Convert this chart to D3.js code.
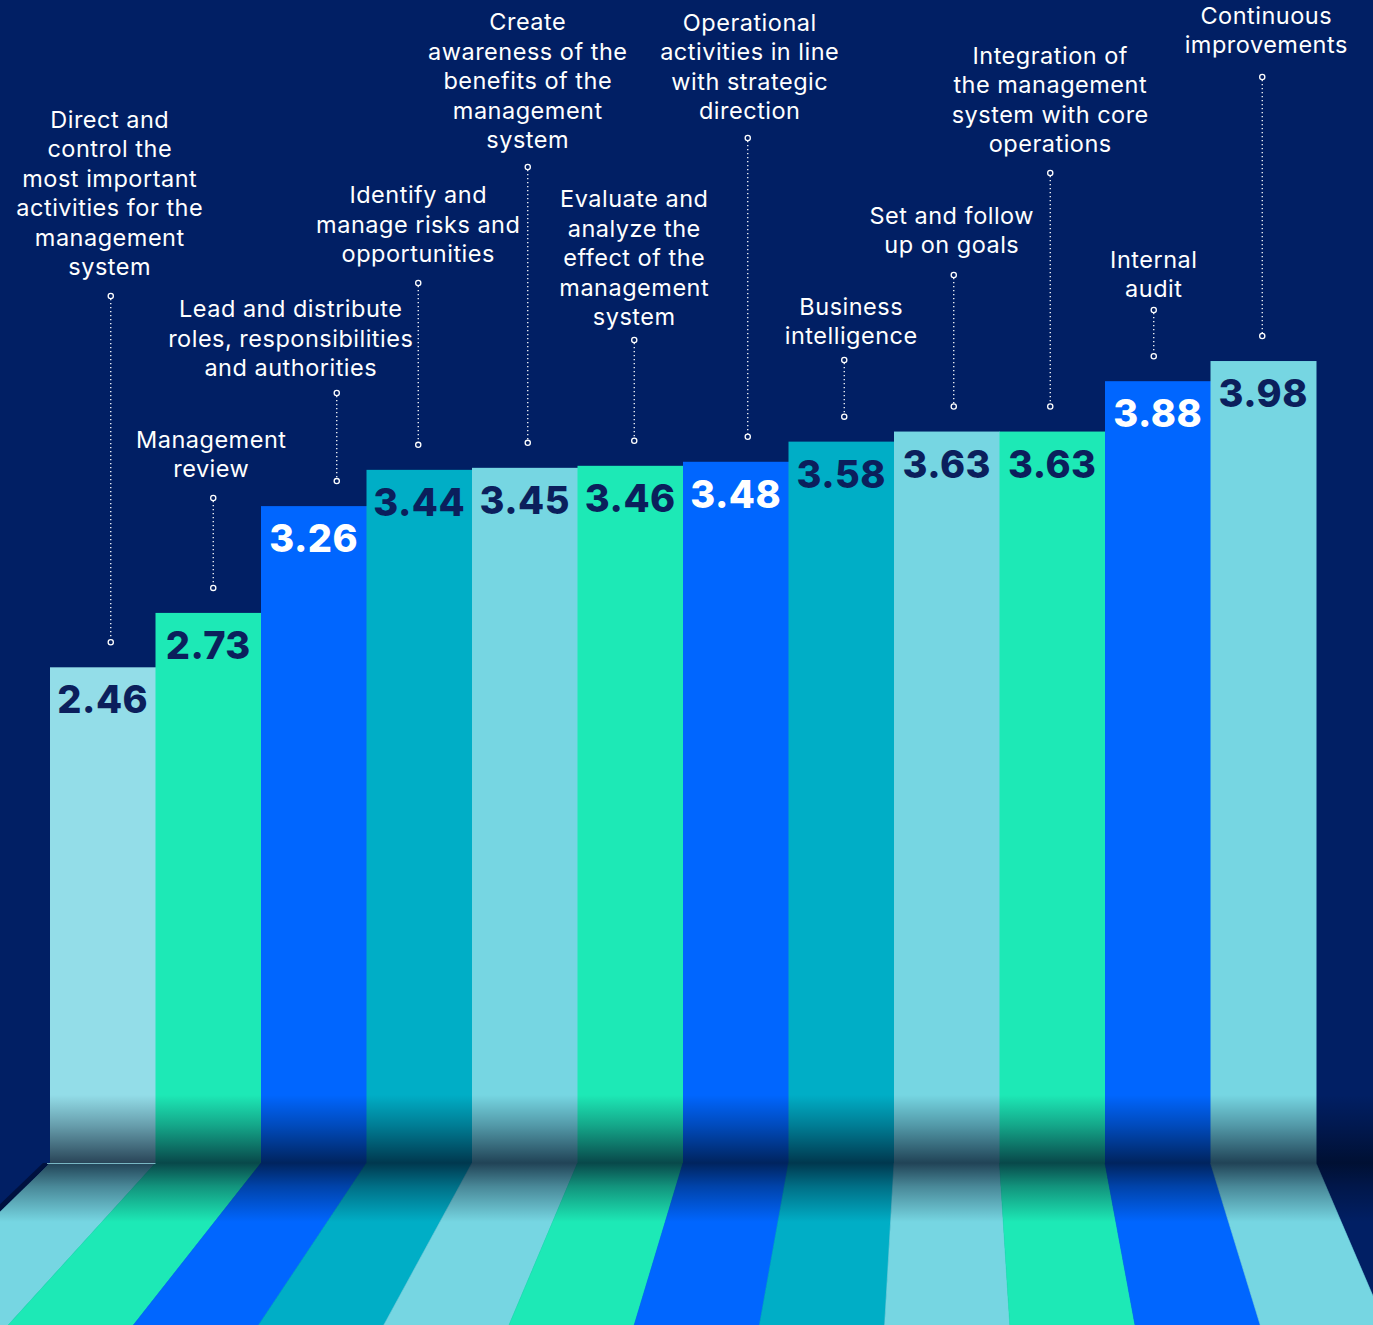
<!DOCTYPE html>
<html>
<head>
<meta charset="utf-8">
<script src="https://cdn.jsdelivr.net/npm/d3@7"></script>
<style>
  html, body { margin: 0; padding: 0; background: #011f64; }
  svg { display: block; }
</style>
</head>
<body>
<svg id="chart" width="1373" height="1325"></svg>
<script>
// Management system practices, average maturity score (scale 0-4)
const categories = [
  ["Direct and", "control the", "most important", "activities for the", "management", "system"],
  ["Management", "review"],
  ["Lead and distribute", "roles, responsibilities", "and authorities"],
  ["Identify and", "manage risks and", "opportunities"],
  ["Create", "awareness of the", "benefits of the", "management", "system"],
  ["Evaluate and", "analyze the", "effect of the", "management", "system"],
  ["Operational", "activities in line", "with strategic", "direction"],
  ["Business", "intelligence"],
  ["Set and follow", "up on goals"],
  ["Integration of", "the management", "system with core", "operations"],
  ["Internal", "audit"],
  ["Continuous", "improvements"]
];
const scores = [2.46, 2.73, 3.26, 3.44, 3.45, 3.46, 3.48, 3.58, 3.63, 3.63, 3.88, 3.98];
const scoreLabels = ["2.46", "2.73", "3.26", "3.44", "3.45", "3.46", "3.48", "3.58", "3.63", "3.63", "3.88", "3.98"];

// Colour roles per bar
const barPalette   = ["#93dde8", "#1de9b6", "#0066ff", "#00aec6", "#76d6e2", "#1de9b6",
                      "#0066ff", "#00aec6", "#76d6e2", "#1de9b6", "#0066ff", "#76d6e2"];
const floorPalette = ["#76d6e2", "#1de9b6", "#0066ff", "#00aec6", "#76d6e2", "#1de9b6",
                      "#0066ff", "#00aec6", "#76d6e2", "#1de9b6", "#0066ff", "#76d6e2"];

// Callout layout: horizontal nudge of the leader line from the bar centre,
// text offset from the leader, top of the leader, centre of the last text line
const calloutNudge   = [8, 5, 23, -1, 3, 4, 12, 3, 7, -2, -4, -1];
const calloutTextDx  = [-1, -2, -46, 0, 0, 0, 2, 7, -2, 0, 0, 4];
const calloutLineTop = [296, 498, 393, 283, 167, 340, 138, 360, 275, 173, 310, 77];
const calloutTextY   = [267, 469, 368, 254, 140, 317, 111, 336, 245, 144, 289, 45];

const W = 1373, H = 1325;
const baseY = 1163, floorBottom = 1325;
const navy = "#011f64";

const svg = d3.select("#chart");

const x = d3.scaleBand().domain(d3.range(scores.length)).range([50, 1316]).padding(0);
const y = d3.scaleLinear().domain([0, 4]).range([baseY, 357]);

// floor perspective: where a baseline x lands at the bottom edge
const fan = d3.scaleLinear().domain([157, 1212]).range([10, 1262]);
const floorX = (xx, t) => xx + t * (fan(xx) - xx);

const defs = svg.append("defs");
const barShade = defs.append("linearGradient")
  .attr("id", "barShade").attr("gradientUnits", "userSpaceOnUse")
  .attr("x1", 0).attr("x2", 0).attr("y1", 1095).attr("y2", baseY);
barShade.append("stop").attr("offset", 0).attr("stop-color", "#000a20").attr("stop-opacity", 0);
barShade.append("stop").attr("offset", 0.45).attr("stop-color", "#000a20").attr("stop-opacity", 0.3);
barShade.append("stop").attr("offset", 1).attr("stop-color", "#000a20").attr("stop-opacity", 0.72);

const floorShade = defs.append("linearGradient")
  .attr("id", "floorShade").attr("gradientUnits", "userSpaceOnUse")
  .attr("x1", 0).attr("x2", 0).attr("y1", baseY).attr("y2", 1222);
floorShade.append("stop").attr("offset", 0).attr("stop-color", "#000a20").attr("stop-opacity", 0.72);
floorShade.append("stop").attr("offset", 0.4).attr("stop-color", "#000a20").attr("stop-opacity", 0.38);
floorShade.append("stop").attr("offset", 1).attr("stop-color", "#000a20").attr("stop-opacity", 0);

// background
svg.append("rect").attr("width", W).attr("height", H).attr("fill", navy);

// floor stripes
const idx = d3.range(scores.length);
svg.append("g").selectAll("path").data(idx).join("path")
  .attr("d", i => {
    const x0 = x(i), x1 = x(i) + x.bandwidth();
    return d3.line()([[x0, baseY], [x1, baseY], [floorX(x1, 1), floorBottom], [floorX(x0, 1), floorBottom]]) + "Z";
  })
  .attr("fill", i => floorPalette[i])
  .attr("stroke", i => floorPalette[i]).attr("stroke-width", 0.6);

// dark edge along the left side of the floor
svg.append("path")
  .attr("d", d3.line()([[43, baseY], [50, baseY], [floorX(50, 1), floorBottom], [floorX(50, 1) - 9, floorBottom]]) + "Z")
  .attr("fill", "#00113f");

// floor shading (bars end in shadow, floor emerges from it)
svg.append("path")
  .attr("d", d3.line()([[50, baseY], [W, baseY], [W, floorBottom], [floorX(50, 1), floorBottom]]) + "Z")
  .attr("fill", "url(#floorShade)");

// bars
svg.append("g").selectAll("rect").data(idx).join("rect")
  .attr("x", i => x(i))
  .attr("y", i => y(scores[i]))
  .attr("width", x.bandwidth() + 0.5)
  .attr("height", i => baseY - y(scores[i]))
  .attr("fill", i => barPalette[i]);

svg.append("rect")
  .attr("x", 50).attr("y", 1095).attr("width", W - 50).attr("height", baseY - 1095)
  .attr("fill", "url(#barShade)");

// thin highlight on the front edge of the first floor stripe
svg.append("line")
  .attr("x1", 47).attr("x2", x(1)).attr("y1", baseY + 0.5).attr("y2", baseY + 0.5)
  .attr("stroke", "#8fd3de").attr("stroke-width", 1).attr("stroke-opacity", 0.8);

// value labels
svg.append("g").selectAll("text").data(idx).join("text")
  .attr("x", i => x(i) + x.bandwidth() / 2)
  .attr("y", i => y(scores[i]) + 46)
  .attr("text-anchor", "middle")
  .attr("font-family", "Inter, 'Open Sans', sans-serif")
  .attr("font-weight", 800)
  .attr("font-size", 38)
  .attr("letter-spacing", 0.5)
  .attr("fill", i => barPalette[i] === "#0066ff" ? "#ffffff" : "#0b1f5c")
  .text(i => scoreLabels[i]);

// callouts: dotted leader + category text
const callouts = svg.append("g");
idx.forEach(i => {
  const cx = x(i) + x.bandwidth() / 2 + calloutNudge[i];
  const top = calloutLineTop[i];
  const bottom = y(scores[i]) - 25;
  const g = callouts.append("g");
  g.append("line")
    .attr("x1", cx).attr("x2", cx).attr("y1", top + 3).attr("y2", bottom - 3)
    .attr("stroke", "#ffffff").attr("stroke-width", 1.3)
    .attr("stroke-dasharray", "1.3 2.7");
  [top, bottom].forEach(cy => {
    g.append("circle").attr("cx", cx).attr("cy", cy).attr("r", 2.6)
      .attr("fill", navy).attr("stroke", "#ffffff").attr("stroke-width", 1.3);
  });
  const lines = categories[i];
  const n = lines.length;
  g.append("g").selectAll("text").data(lines).join("text")
    .attr("x", cx + calloutTextDx[i])
    .attr("y", (d, k) => calloutTextY[i] - (n - 1 - k) * 29.4 + 8)
    .attr("text-anchor", "middle")
    .attr("font-family", "Inter, 'Open Sans', sans-serif")
    .attr("font-weight", 400)
    .attr("font-size", 23.5)
    .attr("letter-spacing", 0.5)
    .attr("fill", "#ffffff")
    .text(d => d);
});
</script>
</body>
</html>
